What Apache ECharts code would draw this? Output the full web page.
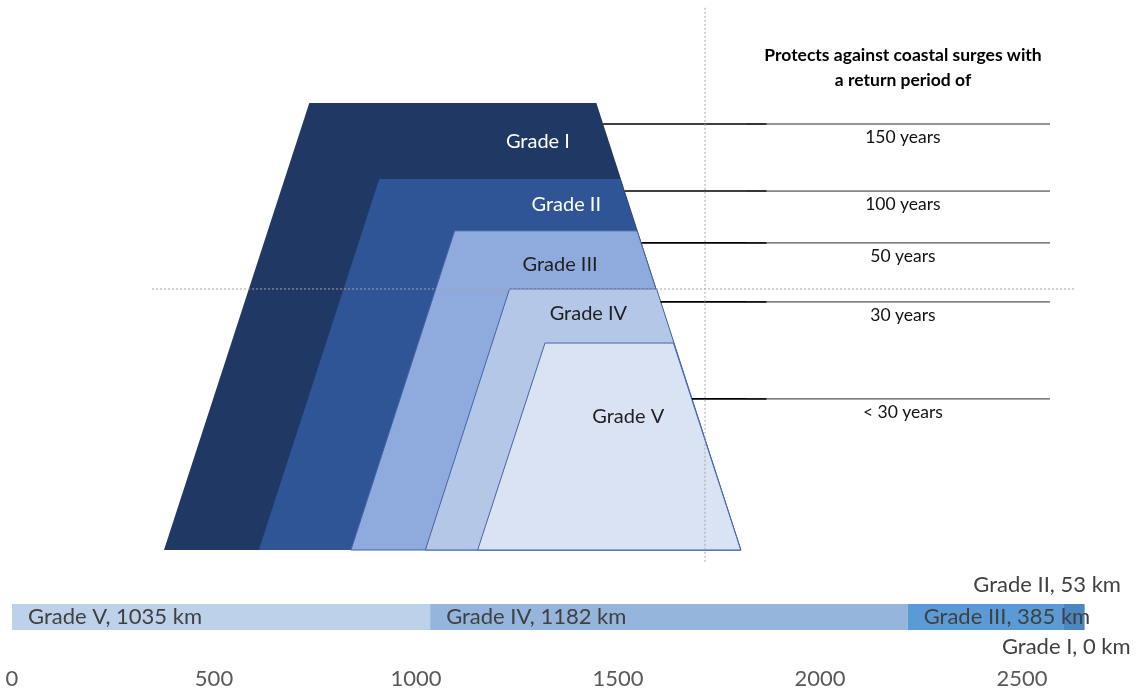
<!DOCTYPE html>
<html>
<head>
<meta charset="utf-8">
<script src="https://cdn.jsdelivr.net/npm/echarts@6/dist/echarts.min.js"></script>
<style>
  html, body { margin: 0; padding: 0; background: #ffffff; }
  #chart { width: 1138px; height: 692px; }
</style>
</head>
<body>
<div id="chart"></div>
<script>
// ---- Dike cross-section (profile units: horizontal 0-100, height in m) ----
const grades = ['Grade I', 'Grade II', 'Grade III', 'Grade IV', 'Grade V'];
const crestHeight = [10, 8.3, 7.14, 5.84, 4.63];
const toeLeft = [0, 10.7, 21.1, 29.5, 35.4];
const crestLeft = [16.4, 24.3, 32.8, 39.0, 43.0];
const crestRight = [48.8, 51.5, 53.4, 55.6, 57.5];
const toeRight = 65.1;

// ---- Design return periods, marked on the seaward slope ----
const returnPeriods = ['150 years', '100 years', '50 years', '30 years', '< 30 years'];
const markerHeight = [9.53, 8.03, 6.87, 5.55, 3.38];

// ---- Length of dike per grade (km) ----
const lengthGrades = ['Grade V', 'Grade IV', 'Grade III', 'Grade II', 'Grade I'];
const lengthKm = [1035, 1182, 385, 53, 0];
const lengthTicks = [0, 500, 1000, 1500, 2000, 2500];

// ---- Layout / styling (not data) ----
const FONT = 'Lato, "Open Sans", sans-serif';
const gradeFill = ['#203864', '#2F5597', '#8FAADC', '#B4C7E7', '#DAE3F3'];
const gradeStroke = [null, null, '#3F65B0', '#3F65B0', '#3F65B0'];
const gradeTextColor = ['#ffffff', '#ffffff', '#1f1f1f', '#1f1f1f', '#1f1f1f'];
const gradeLabelAnchor = [[42.2, 9.13], [45.4, 7.72], [44.7, 6.38], [47.9, 5.30], [52.4, 2.98]];
const markerEndX = 100;
const markerThickEndX = 68;
const markerLabelX = 83.4;
const barColors = ['#BDD1EB', '#95B5DD', '#5B9BD5', '#4A86C0', '#2E5F95'];

const chart = echarts.init(document.getElementById('chart'), null, { renderer: 'canvas' });

// x position of the outer seaward slope at a given height
function slopeX(h) {
  return toeRight - (toeRight - crestRight[0]) * h / crestHeight[0];
}

const barSeries = lengthGrades.map((name, i) => {
  let label;
  if (name === 'Grade II') {
    label = { show: true, position: 'top', distance: 8, align: 'right', offset: [47, 0] };
  } else if (name === 'Grade I') {
    label = { show: true, position: 'bottom', distance: 6, align: 'right', offset: [46, 0] };
  } else {
    label = { show: true, position: 'insideLeft', distance: 16 };
  }
  Object.assign(label, {
    formatter: name + ', ' + lengthKm[i] + ' km',
    color: '#404040', fontSize: 22, fontFamily: FONT
  });
  return {
    name: name,
    type: 'bar',
    stack: 'length',
    xAxisIndex: 1,
    yAxisIndex: 1,
    barWidth: '100%',
    clip: false,
    itemStyle: { color: barColors[i] },
    label: label,
    data: [lengthKm[i]]
  };
});

const option = {
  animation: false,
  backgroundColor: '#ffffff',
  grid: [
    { left: 164, top: 103, width: 886, height: 447 },
    { left: 12, top: 604, width: 1010, height: 26 }
  ],
  xAxis: [
    { gridIndex: 0, type: 'value', min: 0, max: 100, show: false },
    {
      gridIndex: 1, type: 'value', min: 0, max: 2500, interval: 500,
      axisLine: { show: false }, axisTick: { show: false }, splitLine: { show: false },
      axisLabel: {
        margin: 38, color: '#595959', fontSize: 22, fontFamily: FONT,
        formatter: v => lengthTicks.includes(v) ? String(v) : ''
      }
    }
  ],
  yAxis: [
    { gridIndex: 0, type: 'value', min: 0, max: 10, show: false },
    { gridIndex: 1, type: 'category', data: ['Length'], show: false }
  ],
  graphic: [{
    type: 'text',
    x: 903, y: 43,
    style: {
      text: 'Protects against coastal surges with\na return period of',
      align: 'center', verticalAlign: 'top', lineHeight: 25,
      font: 'bold 17.5px ' + FONT, fill: '#000000'
    }
  }],
  series: [
    // dike layers, outer to inner
    {
      type: 'custom',
      xAxisIndex: 0, yAxisIndex: 0,
      z: 2,
      data: grades.map((g, i) => i),
      renderItem: (params, api) => {
        const i = params.dataIndex;
        const pts = [
          [toeLeft[i], 0], [crestLeft[i], crestHeight[i]],
          [crestRight[i], crestHeight[i]], [toeRight, 0]
        ].map(p => api.coord(p));
        const c = api.coord(gradeLabelAnchor[i]);
        return {
          type: 'group',
          children: [
            {
              type: 'polygon', shape: { points: pts },
              style: { fill: gradeFill[i], stroke: gradeStroke[i], lineWidth: gradeStroke[i] ? 1 : 0 }
            },
            {
              type: 'text', x: c[0], y: c[1],
              style: {
                text: grades[i], fill: gradeTextColor[i],
                font: '20px ' + FONT, align: 'center', verticalAlign: 'middle'
              }
            }
          ]
        };
      }
    },
    // return-period markers
    {
      type: 'custom',
      xAxisIndex: 0, yAxisIndex: 0,
      z: 3,
      data: returnPeriods.map((r, i) => i),
      renderItem: (params, api) => {
        const i = params.dataIndex;
        const h = markerHeight[i];
        const a = api.coord([slopeX(h), h]);
        const m = api.coord([markerThickEndX, h]);
        const b = api.coord([markerEndX, h]);
        const t = api.coord([markerLabelX, h]);
        return {
          type: 'group',
          children: [
            { type: 'line', shape: { x1: a[0], y1: a[1], x2: m[0], y2: m[1] },
              style: { stroke: '#000000', lineWidth: 1.6 } },
            { type: 'line', shape: { x1: m[0] - 20, y1: m[1], x2: b[0], y2: b[1] },
              style: { stroke: '#2b2b2b', lineWidth: 1 } },
            { type: 'text', x: t[0], y: t[1] + 13,
              style: { text: returnPeriods[i], fill: '#111111', font: '17.5px ' + FONT,
                       align: 'center', verticalAlign: 'middle' } }
          ]
        };
      }
    },
    // dashed reference lines
    {
      type: 'custom',
      xAxisIndex: 0, yAxisIndex: 0,
      z: 4,
      data: [0],
      renderItem: (params, api) => {
        const v1 = api.coord([61.06, 12.13]);
        const v2 = api.coord([61.06, -0.27]);
        const h1 = api.coord([-1.35, crestHeight[3]]);
        const h2 = api.coord([102.8, crestHeight[3]]);
        const st = { stroke: '#A6A6A6', lineWidth: 1, lineDash: [2, 2] };
        return {
          type: 'group',
          children: [
            { type: 'line', shape: { x1: v1[0], y1: v1[1], x2: v2[0], y2: v2[1] }, style: st },
            { type: 'line', shape: { x1: h1[0], y1: h1[1], x2: h2[0], y2: h2[1] }, style: st }
          ]
        };
      }
    }
  ].concat(barSeries)
};

chart.setOption(option);
</script>
</body>
</html>
